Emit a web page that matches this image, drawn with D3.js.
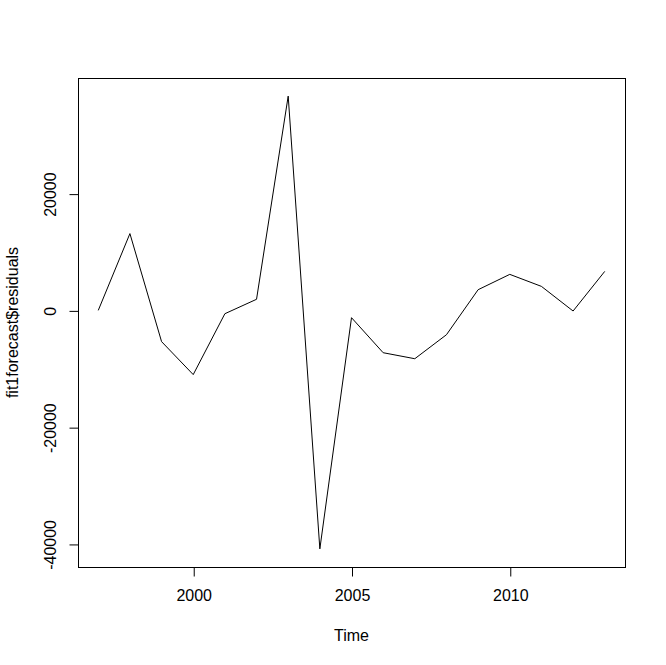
<!DOCTYPE html>
<html>
<head>
<meta charset="utf-8">
<script src="https://cdn.jsdelivr.net/npm/d3@7"></script>
<style>
  html, body { margin: 0; padding: 0; background: #fff; }
  text { font-family: "Liberation Sans", Arial, sans-serif; fill: #000; }
</style>
</head>
<body>
<script>
const years = [1997,1998,1999,2000,2001,2002,2003,2004,2005,2006,2007,2008,2009,2010,2011,2012,2013];
const residuals = [0,13150,-5350,-11000,-570,1900,36700,-40850,-1250,-7250,-8280,-4170,3540,6170,4110,-110,6680];
const xTicks = [2000, 2005, 2010];
const yTicks = [-40000, -20000, 0, 20000];
const xLabel = "Time";
const yLabel = "fit1forecast$residuals";

const W = 666, H = 665;
const L = 78, R = 625, T = 78, B = 567;

const svg = d3.select("body").append("svg").attr("width", W).attr("height", H);

const xExt = d3.extent(years), xPad = (xExt[1] - xExt[0]) * 0.04;
const yExt = d3.extent(residuals), yPad = (yExt[1] - yExt[0]) * 0.04;
const x = d3.scaleLinear().domain([xExt[0] - xPad, xExt[1] + xPad]).range([L, R]);
const y = d3.scaleLinear().domain([yExt[0] - yPad, yExt[1] + yPad]).range([B, T]);

// series line
svg.append("path")
  .datum(years.map((yr, i) => [yr, residuals[i]]))
  .attr("fill", "none").attr("stroke", "#000").attr("stroke-width", 1)
  .attr("d", d3.line().x(d => x(d[0])).y(d => y(d[1])));

// box
svg.append("rect").attr("x", L + 0.5).attr("y", T + 0.5)
  .attr("width", R - L).attr("height", B - T)
  .attr("fill", "none").attr("stroke", "#000").attr("stroke-width", 1);

const fmt = d => String(d);

// x axis
const xAxis = d3.axisBottom(x).tickValues(xTicks).tickFormat(fmt).tickSize(9).tickPadding(13);
const gx = svg.append("g").attr("transform", `translate(0.5,${B + 0.5})`).call(xAxis);
gx.select(".domain").remove();
gx.selectAll("line").attr("stroke", "#000");
gx.selectAll("text").attr("font-size", 16).attr("font-family", "Liberation Sans, Arial, sans-serif").attr("fill", "#000");

// y axis
const yAxis = d3.axisLeft(y).tickValues(yTicks).tickFormat(fmt).tickSize(9).tickPadding(14);
const gy = svg.append("g").attr("transform", `translate(${L + 0.5},0.5)`).call(yAxis);
gy.select(".domain").remove();
gy.selectAll("line").attr("stroke", "#000");
gy.selectAll("text")
  .attr("font-size", 16).attr("font-family", "Liberation Sans, Arial, sans-serif").attr("fill", "#000")
  .attr("x", null).attr("dy", null)
  .attr("text-anchor", "middle")
  .attr("transform", "translate(-23,0) rotate(-90)");

// axis titles
svg.append("text").attr("x", (L + R) / 2).attr("y", 641)
  .attr("text-anchor", "middle").attr("font-size", 16).text(xLabel);
svg.append("text").attr("transform", `translate(18,${(T + B) / 2}) rotate(-90)`)
  .attr("text-anchor", "middle").attr("font-size", 16).text(yLabel);
</script>
</body>
</html>
